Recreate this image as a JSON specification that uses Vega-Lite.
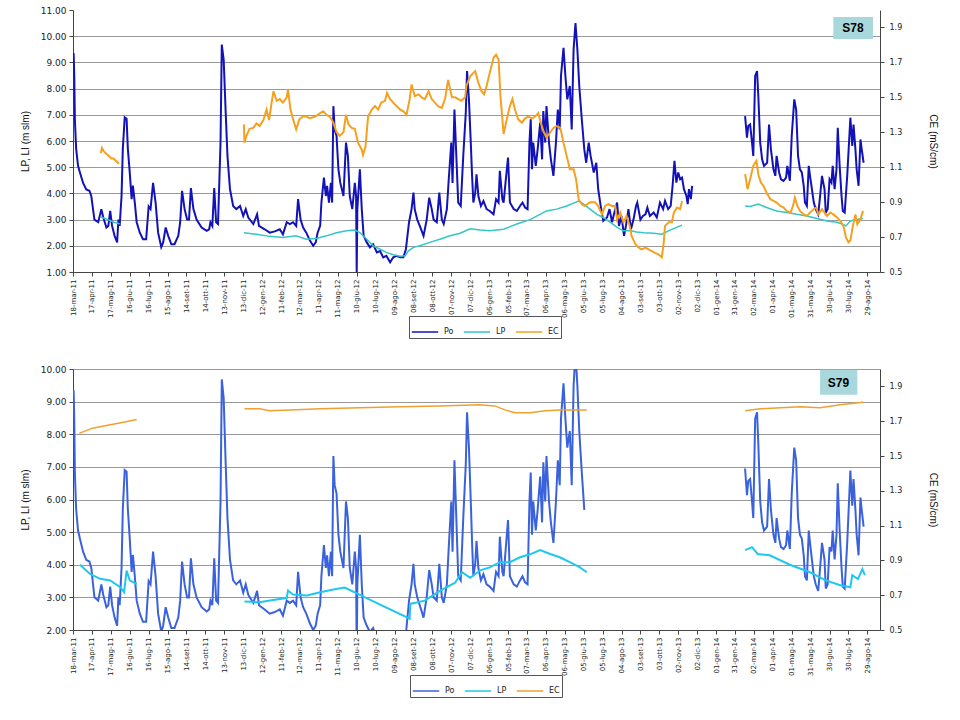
{
"$schema":"https://vega.github.io/schema/vega-lite/v6.json",
"padding":{"left":20,"top":6,"right":5,"bottom":5},
"background":"white",
"config":{"view":{"stroke":null},"axis":{"labelColor":"#222","titleColor":"#111","domainColor":"#444","tickColor":"#444"}},
"datasets":{
"po":[{"d":"2011-03-18","v":9.3},{"d":"2011-03-19","v":9.35},{"d":"2011-03-20","v":8.48},{"d":"2011-03-21","v":6.8},{"d":"2011-03-23","v":5.7},{"d":"2011-03-26","v":5.05},{"d":"2011-03-29","v":4.8},{"d":"2011-04-03","v":4.4},{"d":"2011-04-08","v":4.15},{"d":"2011-04-13","v":4.1},{"d":"2011-04-16","v":3.9},{"d":"2011-04-21","v":3.0},{"d":"2011-04-27","v":2.9},{"d":"2011-05-02","v":3.4},{"d":"2011-05-05","v":3.08},{"d":"2011-05-10","v":2.7},{"d":"2011-05-13","v":2.76},{"d":"2011-05-16","v":3.33},{"d":"2011-05-19","v":2.76},{"d":"2011-05-23","v":2.38},{"d":"2011-05-27","v":2.13},{"d":"2011-05-29","v":3.0},{"d":"2011-05-31","v":2.76},{"d":"2011-06-03","v":3.9},{"d":"2011-06-05","v":5.7},{"d":"2011-06-08","v":6.9},{"d":"2011-06-11","v":6.85},{"d":"2011-06-13","v":5.7},{"d":"2011-06-16","v":4.8},{"d":"2011-06-19","v":3.78},{"d":"2011-06-21","v":4.3},{"d":"2011-06-24","v":3.65},{"d":"2011-06-27","v":2.9},{"d":"2011-07-02","v":2.5},{"d":"2011-07-07","v":2.25},{"d":"2011-07-12","v":2.25},{"d":"2011-07-16","v":3.5},{"d":"2011-07-19","v":3.4},{"d":"2011-07-23","v":4.4},{"d":"2011-07-27","v":3.65},{"d":"2011-07-31","v":2.5},{"d":"2011-08-05","v":1.95},{"d":"2011-08-08","v":2.13},{"d":"2011-08-12","v":2.7},{"d":"2011-08-16","v":2.38},{"d":"2011-08-21","v":2.06},{"d":"2011-08-26","v":2.06},{"d":"2011-09-01","v":2.38},{"d":"2011-09-04","v":2.9},{"d":"2011-09-07","v":4.1},{"d":"2011-09-11","v":3.4},{"d":"2011-09-15","v":3.0},{"d":"2011-09-18","v":3.0},{"d":"2011-09-21","v":4.2},{"d":"2011-09-25","v":3.4},{"d":"2011-09-30","v":3.0},{"d":"2011-10-08","v":2.7},{"d":"2011-10-16","v":2.57},{"d":"2011-10-20","v":2.63},{"d":"2011-10-22","v":2.9},{"d":"2011-10-25","v":2.76},{"d":"2011-10-28","v":4.2},{"d":"2011-10-31","v":2.9},{"d":"2011-11-03","v":2.83},{"d":"2011-11-07","v":5.94},{"d":"2011-11-09","v":9.68},{"d":"2011-11-12","v":9.1},{"d":"2011-11-15","v":7.2},{"d":"2011-11-18","v":5.43},{"d":"2011-11-22","v":4.16},{"d":"2011-11-27","v":3.52},{"d":"2011-12-02","v":3.4},{"d":"2011-12-08","v":3.52},{"d":"2011-12-13","v":3.14},{"d":"2011-12-17","v":3.4},{"d":"2011-12-21","v":3.08},{"d":"2011-12-29","v":2.83},{"d":"2012-01-04","v":3.2},{"d":"2012-01-07","v":2.76},{"d":"2012-01-16","v":2.63},{"d":"2012-01-24","v":2.5},{"d":"2012-02-01","v":2.55},{"d":"2012-02-09","v":2.63},{"d":"2012-02-14","v":2.44},{"d":"2012-02-20","v":2.9},{"d":"2012-02-25","v":2.83},{"d":"2012-03-01","v":2.9},{"d":"2012-03-06","v":2.76},{"d":"2012-03-09","v":3.78},{"d":"2012-03-13","v":3.0},{"d":"2012-03-17","v":2.7},{"d":"2012-03-22","v":2.5},{"d":"2012-03-28","v":2.19},{"d":"2012-04-02","v":2.0},{"d":"2012-04-06","v":2.13},{"d":"2012-04-09","v":2.5},{"d":"2012-04-13","v":2.76},{"d":"2012-04-15","v":3.65},{"d":"2012-04-19","v":4.6},{"d":"2012-04-22","v":3.9},{"d":"2012-04-24","v":4.29},{"d":"2012-04-27","v":3.65},{"d":"2012-04-30","v":4.4},{"d":"2012-05-02","v":3.65},{"d":"2012-05-04","v":7.33},{"d":"2012-05-06","v":6.44},{"d":"2012-05-09","v":6.19},{"d":"2012-05-12","v":4.92},{"d":"2012-05-15","v":4.4},{"d":"2012-05-20","v":3.9},{"d":"2012-05-24","v":5.94},{"d":"2012-05-27","v":5.43},{"d":"2012-05-30","v":3.9},{"d":"2012-06-03","v":3.4},{"d":"2012-06-07","v":4.4},{"d":"2012-06-09","v":3.9},{"d":"2012-06-10","v":1.0},{"d":"2012-06-11","v":3.4},{"d":"2012-06-15","v":4.92},{"d":"2012-06-18","v":3.4},{"d":"2012-06-21","v":2.38},{"d":"2012-06-26","v":2.13},{"d":"2012-07-01","v":1.94},{"d":"2012-07-06","v":2.06},{"d":"2012-07-12","v":1.75},{"d":"2012-07-17","v":1.8},{"d":"2012-07-22","v":1.56},{"d":"2012-07-27","v":1.62},{"d":"2012-08-02","v":1.37},{"d":"2012-08-07","v":1.56},{"d":"2012-08-12","v":1.62},{"d":"2012-08-18","v":1.56},{"d":"2012-08-23","v":1.56},{"d":"2012-08-27","v":1.87},{"d":"2012-09-01","v":2.9},{"d":"2012-09-05","v":3.4},{"d":"2012-09-08","v":4.03},{"d":"2012-09-10","v":3.4},{"d":"2012-09-14","v":3.0},{"d":"2012-09-18","v":2.76},{"d":"2012-09-24","v":2.38},{"d":"2012-09-29","v":3.0},{"d":"2012-10-03","v":3.84},{"d":"2012-10-07","v":3.4},{"d":"2012-10-10","v":3.0},{"d":"2012-10-15","v":2.9},{"d":"2012-10-19","v":4.03},{"d":"2012-10-23","v":3.0},{"d":"2012-10-26","v":2.83},{"d":"2012-10-31","v":3.4},{"d":"2012-11-03","v":4.54},{"d":"2012-11-07","v":5.94},{"d":"2012-11-09","v":4.4},{"d":"2012-11-12","v":7.2},{"d":"2012-11-15","v":5.43},{"d":"2012-11-18","v":3.65},{"d":"2012-11-22","v":3.52},{"d":"2012-11-26","v":5.43},{"d":"2012-11-30","v":7.08},{"d":"2012-12-02","v":8.67},{"d":"2012-12-05","v":7.59},{"d":"2012-12-08","v":5.9},{"d":"2012-12-10","v":4.67},{"d":"2012-12-12","v":3.65},{"d":"2012-12-15","v":4.03},{"d":"2012-12-17","v":4.73},{"d":"2012-12-20","v":3.9},{"d":"2012-12-24","v":3.52},{"d":"2012-12-28","v":3.71},{"d":"2013-01-02","v":3.4},{"d":"2013-01-07","v":3.33},{"d":"2013-01-13","v":3.2},{"d":"2013-01-17","v":3.78},{"d":"2013-01-21","v":3.65},{"d":"2013-01-23","v":4.86},{"d":"2013-01-27","v":3.78},{"d":"2013-01-29","v":3.65},{"d":"2013-02-01","v":4.4},{"d":"2013-02-05","v":5.37},{"d":"2013-02-08","v":3.65},{"d":"2013-02-14","v":3.4},{"d":"2013-02-19","v":3.33},{"d":"2013-02-24","v":3.52},{"d":"2013-02-28","v":3.65},{"d":"2013-03-04","v":3.46},{"d":"2013-03-08","v":3.4},{"d":"2013-03-11","v":5.94},{"d":"2013-03-13","v":6.83},{"d":"2013-03-15","v":4.92},{"d":"2013-03-17","v":5.94},{"d":"2013-03-21","v":5.05},{"d":"2013-03-24","v":5.68},{"d":"2013-03-28","v":6.7},{"d":"2013-03-31","v":5.3},{"d":"2013-04-02","v":7.14},{"d":"2013-04-05","v":5.94},{"d":"2013-04-07","v":7.33},{"d":"2013-04-11","v":5.94},{"d":"2013-04-14","v":5.3},{"d":"2013-04-18","v":4.67},{"d":"2013-04-22","v":5.94},{"d":"2013-04-25","v":7.2},{"d":"2013-04-28","v":6.44},{"d":"2013-04-30","v":8.48},{"d":"2013-05-04","v":9.56},{"d":"2013-05-07","v":8.48},{"d":"2013-05-10","v":7.59},{"d":"2013-05-14","v":8.1},{"d":"2013-05-17","v":6.44},{"d":"2013-05-20","v":9.49},{"d":"2013-05-23","v":10.5},{"d":"2013-05-26","v":9.49},{"d":"2013-05-29","v":8.1},{"d":"2013-06-02","v":6.83},{"d":"2013-06-06","v":5.68},{"d":"2013-06-09","v":5.17},{"d":"2013-06-13","v":5.94},{"d":"2013-06-16","v":5.43},{"d":"2013-06-21","v":4.8},{"d":"2013-06-25","v":5.17},{"d":"2013-06-28","v":4.16},{"d":"2013-07-02","v":3.52},{"d":"2013-07-06","v":2.95},{"d":"2013-07-12","v":3.08},{"d":"2013-07-16","v":3.4},{"d":"2013-07-20","v":2.9},{"d":"2013-07-23","v":3.2},{"d":"2013-07-28","v":3.65},{"d":"2013-07-31","v":2.76},{"d":"2013-08-04","v":3.14},{"d":"2013-08-08","v":2.38},{"d":"2013-08-11","v":2.76},{"d":"2013-08-15","v":3.4},{"d":"2013-08-19","v":2.63},{"d":"2013-08-23","v":3.0},{"d":"2013-08-27","v":3.52},{"d":"2013-08-29","v":3.65},{"d":"2013-09-03","v":3.0},{"d":"2013-09-07","v":3.14},{"d":"2013-09-11","v":3.2},{"d":"2013-09-14","v":3.46},{"d":"2013-09-18","v":3.14},{"d":"2013-09-24","v":3.27},{"d":"2013-09-29","v":3.08},{"d":"2013-10-04","v":3.65},{"d":"2013-10-09","v":3.4},{"d":"2013-10-12","v":3.71},{"d":"2013-10-17","v":3.4},{"d":"2013-10-21","v":3.52},{"d":"2013-10-24","v":4.29},{"d":"2013-10-27","v":5.24},{"d":"2013-10-30","v":4.41},{"d":"2013-11-02","v":4.8},{"d":"2013-11-05","v":4.54},{"d":"2013-11-08","v":4.6},{"d":"2013-11-11","v":4.16},{"d":"2013-11-15","v":3.9},{"d":"2013-11-17","v":3.59},{"d":"2013-11-19","v":4.16},{"d":"2013-11-22","v":3.78},{"d":"2013-11-24","v":4.29},{"d":"2013-12-20","v":null},{"d":"2014-02-16","v":6.95},{"d":"2014-02-19","v":6.13},{"d":"2014-02-21","v":6.57},{"d":"2014-02-24","v":6.63},{"d":"2014-02-27","v":5.94},{"d":"2014-03-01","v":5.43},{"d":"2014-03-04","v":8.48},{"d":"2014-03-07","v":8.67},{"d":"2014-03-09","v":7.71},{"d":"2014-03-12","v":5.94},{"d":"2014-03-15","v":5.3},{"d":"2014-03-18","v":5.05},{"d":"2014-03-23","v":5.17},{"d":"2014-03-26","v":6.63},{"d":"2014-03-29","v":5.68},{"d":"2014-04-02","v":4.92},{"d":"2014-04-05","v":4.67},{"d":"2014-04-07","v":5.43},{"d":"2014-04-11","v":4.8},{"d":"2014-04-14","v":4.54},{"d":"2014-04-18","v":4.48},{"d":"2014-04-22","v":4.6},{"d":"2014-04-24","v":5.05},{"d":"2014-04-28","v":4.48},{"d":"2014-05-01","v":6.19},{"d":"2014-05-05","v":7.59},{"d":"2014-05-08","v":7.2},{"d":"2014-05-11","v":5.43},{"d":"2014-05-14","v":4.92},{"d":"2014-05-17","v":4.8},{"d":"2014-05-20","v":4.29},{"d":"2014-05-22","v":3.65},{"d":"2014-05-25","v":3.52},{"d":"2014-05-28","v":5.05},{"d":"2014-05-30","v":4.67},{"d":"2014-06-02","v":4.16},{"d":"2014-06-05","v":3.65},{"d":"2014-06-08","v":3.4},{"d":"2014-06-12","v":3.2},{"d":"2014-06-15","v":3.9},{"d":"2014-06-18","v":4.67},{"d":"2014-06-22","v":4.16},{"d":"2014-06-24","v":3.27},{"d":"2014-06-27","v":3.4},{"d":"2014-06-30","v":4.54},{"d":"2014-07-03","v":4.41},{"d":"2014-07-05","v":5.05},{"d":"2014-07-08","v":4.16},{"d":"2014-07-11","v":4.92},{"d":"2014-07-13","v":6.5},{"d":"2014-07-16","v":5.05},{"d":"2014-07-19","v":3.9},{"d":"2014-07-21","v":3.33},{"d":"2014-07-24","v":3.27},{"d":"2014-07-28","v":4.67},{"d":"2014-07-30","v":5.56},{"d":"2014-08-02","v":6.89},{"d":"2014-08-05","v":5.81},{"d":"2014-08-07","v":6.63},{"d":"2014-08-10","v":5.68},{"d":"2014-08-12","v":4.92},{"d":"2014-08-15","v":4.29},{"d":"2014-08-18","v":6.06},{"d":"2014-08-20","v":5.68},{"d":"2014-08-23","v":5.17}],
"lpTop":[{"d":"2011-05-01","v":3.1},{"d":"2011-05-07","v":3.05},{"d":"2011-05-12","v":3.0},{"d":"2011-05-17","v":2.95},{"d":"2011-05-22","v":2.9},{"d":"2011-05-27","v":2.87},{"d":"2011-05-31","v":2.83},{"d":"2011-08-01","v":null},{"d":"2011-12-14","v":2.5},{"d":"2012-01-03","v":2.44},{"d":"2012-01-24","v":2.36},{"d":"2012-02-14","v":2.32},{"d":"2012-03-06","v":2.38},{"d":"2012-03-22","v":2.25},{"d":"2012-04-07","v":2.28},{"d":"2012-04-23","v":2.38},{"d":"2012-05-09","v":2.5},{"d":"2012-05-25","v":2.57},{"d":"2012-06-07","v":2.6},{"d":"2012-06-15","v":2.5},{"d":"2012-06-26","v":2.25},{"d":"2012-07-06","v":2.0},{"d":"2012-07-17","v":1.87},{"d":"2012-07-27","v":1.75},{"d":"2012-08-07","v":1.66},{"d":"2012-08-18","v":1.6},{"d":"2012-08-26","v":1.62},{"d":"2012-08-31","v":1.81},{"d":"2012-09-08","v":1.94},{"d":"2012-09-18","v":2.0},{"d":"2012-10-04","v":2.13},{"d":"2012-10-20","v":2.25},{"d":"2012-11-05","v":2.38},{"d":"2012-11-21","v":2.48},{"d":"2012-12-07","v":2.65},{"d":"2012-12-23","v":2.6},{"d":"2013-01-07","v":2.57},{"d":"2013-01-29","v":2.63},{"d":"2013-02-19","v":2.83},{"d":"2013-03-12","v":3.0},{"d":"2013-04-07","v":3.33},{"d":"2013-04-23","v":3.4},{"d":"2013-05-09","v":3.52},{"d":"2013-05-22","v":3.65},{"d":"2013-05-28","v":3.71},{"d":"2013-06-05","v":3.59},{"d":"2013-06-15","v":3.4},{"d":"2013-06-26","v":3.2},{"d":"2013-07-06","v":3.08},{"d":"2013-07-17","v":2.9},{"d":"2013-07-28","v":2.7},{"d":"2013-08-07","v":2.57},{"d":"2013-08-18","v":2.57},{"d":"2013-08-28","v":2.53},{"d":"2013-09-08","v":2.5},{"d":"2013-09-24","v":2.48},{"d":"2013-10-07","v":2.44},{"d":"2013-10-20","v":2.6},{"d":"2013-11-08","v":2.79},{"d":"2013-12-20","v":null},{"d":"2014-02-16","v":3.52},{"d":"2014-02-24","v":3.5},{"d":"2014-03-09","v":3.59},{"d":"2014-03-22","v":3.46},{"d":"2014-04-07","v":3.33},{"d":"2014-04-23","v":3.27},{"d":"2014-05-09","v":3.2},{"d":"2014-05-25","v":3.14},{"d":"2014-06-10","v":3.04},{"d":"2014-06-26","v":2.95},{"d":"2014-07-12","v":2.9},{"d":"2014-07-20","v":2.83},{"d":"2014-07-26","v":2.76},{"d":"2014-08-02","v":2.95},{"d":"2014-08-12","v":3.0},{"d":"2014-08-22","v":3.04}],
"ecTop":[{"d":"2011-05-01","v":1.18},{"d":"2011-05-03","v":1.21},{"d":"2011-05-06","v":1.19},{"d":"2011-05-09","v":1.18},{"d":"2011-05-12","v":1.17},{"d":"2011-05-15","v":1.16},{"d":"2011-05-18","v":1.15},{"d":"2011-05-21","v":1.15},{"d":"2011-05-24","v":1.14},{"d":"2011-05-27","v":1.13},{"d":"2011-05-30","v":1.12},{"d":"2011-08-01","v":null},{"d":"2011-12-14","v":1.345},{"d":"2011-12-15","v":1.24},{"d":"2011-12-18","v":1.28},{"d":"2011-12-23","v":1.32},{"d":"2011-12-29","v":1.325},{"d":"2012-01-03","v":1.35},{"d":"2012-01-08","v":1.336},{"d":"2012-01-14","v":1.37},{"d":"2012-01-19","v":1.43},{"d":"2012-01-23","v":1.37},{"d":"2012-01-27","v":1.47},{"d":"2012-01-30","v":1.535},{"d":"2012-02-04","v":1.48},{"d":"2012-02-09","v":1.49},{"d":"2012-02-14","v":1.47},{"d":"2012-02-20","v":1.5},{"d":"2012-02-22","v":1.546},{"d":"2012-02-26","v":1.43},{"d":"2012-03-01","v":1.375},{"d":"2012-03-06","v":1.317},{"d":"2012-03-11","v":1.375},{"d":"2012-03-17","v":1.39},{"d":"2012-03-22","v":1.39},{"d":"2012-03-28","v":1.38},{"d":"2012-04-05","v":1.39},{"d":"2012-04-13","v":1.41},{"d":"2012-04-18","v":1.42},{"d":"2012-04-23","v":1.4},{"d":"2012-04-28","v":1.39},{"d":"2012-05-04","v":1.355},{"d":"2012-05-09","v":1.3},{"d":"2012-05-14","v":1.28},{"d":"2012-05-20","v":1.3},{"d":"2012-05-24","v":1.4},{"d":"2012-05-28","v":1.345},{"d":"2012-06-02","v":1.325},{"d":"2012-06-07","v":1.32},{"d":"2012-06-12","v":1.24},{"d":"2012-06-18","v":1.2},{"d":"2012-06-20","v":1.17},{"d":"2012-06-24","v":1.22},{"d":"2012-06-28","v":1.39},{"d":"2012-07-04","v":1.43},{"d":"2012-07-09","v":1.45},{"d":"2012-07-14","v":1.43},{"d":"2012-07-19","v":1.47},{"d":"2012-07-25","v":1.48},{"d":"2012-07-28","v":1.526},{"d":"2012-08-02","v":1.49},{"d":"2012-08-07","v":1.47},{"d":"2012-08-12","v":1.45},{"d":"2012-08-18","v":1.43},{"d":"2012-08-23","v":1.42},{"d":"2012-08-28","v":1.4},{"d":"2012-09-02","v":1.49},{"d":"2012-09-05","v":1.574},{"d":"2012-09-10","v":1.507},{"d":"2012-09-16","v":1.517},{"d":"2012-09-21","v":1.5},{"d":"2012-09-26","v":1.49},{"d":"2012-10-02","v":1.535},{"d":"2012-10-07","v":1.49},{"d":"2012-10-12","v":1.47},{"d":"2012-10-17","v":1.45},{"d":"2012-10-23","v":1.44},{"d":"2012-10-28","v":1.49},{"d":"2012-11-02","v":1.6},{"d":"2012-11-08","v":1.5},{"d":"2012-11-13","v":1.5},{"d":"2012-11-18","v":1.49},{"d":"2012-11-23","v":1.48},{"d":"2012-11-29","v":1.5},{"d":"2012-12-01","v":1.565},{"d":"2012-12-07","v":1.62},{"d":"2012-12-12","v":1.64},{"d":"2012-12-15","v":1.65},{"d":"2012-12-20","v":1.583},{"d":"2012-12-25","v":1.535},{"d":"2012-12-29","v":1.517},{"d":"2013-01-02","v":1.565},{"d":"2013-01-07","v":1.64},{"d":"2013-01-13","v":1.726},{"d":"2013-01-17","v":1.745},{"d":"2013-01-21","v":1.717},{"d":"2013-01-24","v":1.507},{"d":"2013-01-29","v":1.29},{"d":"2013-02-03","v":1.375},{"d":"2013-02-08","v":1.45},{"d":"2013-02-12","v":1.49},{"d":"2013-02-16","v":1.43},{"d":"2013-02-21","v":1.375},{"d":"2013-02-27","v":1.355},{"d":"2013-03-04","v":1.38},{"d":"2013-03-09","v":1.39},{"d":"2013-03-15","v":1.38},{"d":"2013-03-20","v":1.39},{"d":"2013-03-25","v":1.41},{"d":"2013-03-29","v":1.355},{"d":"2013-04-02","v":1.307},{"d":"2013-04-07","v":1.27},{"d":"2013-04-13","v":1.3},{"d":"2013-04-18","v":1.325},{"d":"2013-04-23","v":1.335},{"d":"2013-04-29","v":1.325},{"d":"2013-05-04","v":1.24},{"d":"2013-05-09","v":1.165},{"d":"2013-05-14","v":1.088},{"d":"2013-05-20","v":1.088},{"d":"2013-05-24","v":1.03},{"d":"2013-05-28","v":0.917},{"d":"2013-06-02","v":0.888},{"d":"2013-06-07","v":0.878},{"d":"2013-06-15","v":0.9},{"d":"2013-06-23","v":0.9},{"d":"2013-06-28","v":0.878},{"d":"2013-07-04","v":0.83},{"d":"2013-07-09","v":0.878},{"d":"2013-07-14","v":0.888},{"d":"2013-07-20","v":0.878},{"d":"2013-07-25","v":0.878},{"d":"2013-07-28","v":0.8},{"d":"2013-08-02","v":0.84},{"d":"2013-08-07","v":0.785},{"d":"2013-08-12","v":0.82},{"d":"2013-08-17","v":0.764},{"d":"2013-08-20","v":0.707},{"d":"2013-08-26","v":0.66},{"d":"2013-08-31","v":0.64},{"d":"2013-09-05","v":0.63},{"d":"2013-09-11","v":0.64},{"d":"2013-09-16","v":0.63},{"d":"2013-09-21","v":0.62},{"d":"2013-09-26","v":0.61},{"d":"2013-10-02","v":0.6},{"d":"2013-10-07","v":0.584},{"d":"2013-10-10","v":0.67},{"d":"2013-10-12","v":0.764},{"d":"2013-10-18","v":0.785},{"d":"2013-10-23","v":0.785},{"d":"2013-10-26","v":0.84},{"d":"2013-10-31","v":0.869},{"d":"2013-11-05","v":0.86},{"d":"2013-11-08","v":0.907},{"d":"2013-12-20","v":null},{"d":"2014-02-16","v":1.06},{"d":"2014-02-20","v":0.974},{"d":"2014-02-24","v":1.031},{"d":"2014-03-01","v":1.108},{"d":"2014-03-06","v":1.136},{"d":"2014-03-09","v":1.06},{"d":"2014-03-13","v":1.012},{"d":"2014-03-17","v":0.994},{"d":"2014-03-22","v":0.955},{"d":"2014-03-28","v":0.917},{"d":"2014-04-02","v":0.907},{"d":"2014-04-07","v":0.898},{"d":"2014-04-13","v":0.878},{"d":"2014-04-18","v":0.869},{"d":"2014-04-23","v":0.85},{"d":"2014-04-29","v":0.84},{"d":"2014-05-03","v":0.878},{"d":"2014-05-06","v":0.926},{"d":"2014-05-10","v":0.878},{"d":"2014-05-14","v":0.85},{"d":"2014-05-20","v":0.83},{"d":"2014-05-25","v":0.821},{"d":"2014-05-30","v":0.84},{"d":"2014-06-05","v":0.86},{"d":"2014-06-09","v":0.869},{"d":"2014-06-12","v":0.83},{"d":"2014-06-18","v":0.86},{"d":"2014-06-22","v":0.84},{"d":"2014-06-26","v":0.821},{"d":"2014-07-01","v":0.84},{"d":"2014-07-06","v":0.83},{"d":"2014-07-12","v":0.812},{"d":"2014-07-17","v":0.793},{"d":"2014-07-22","v":0.764},{"d":"2014-07-26","v":0.698},{"d":"2014-07-30","v":0.67},{"d":"2014-08-02","v":0.68},{"d":"2014-08-06","v":0.764},{"d":"2014-08-10","v":0.83},{"d":"2014-08-13","v":0.774},{"d":"2014-08-18","v":0.8},{"d":"2014-08-22","v":0.85}],
"lpBot":[{"d":"2011-03-29","v":4.0},{"d":"2011-04-14","v":3.72},{"d":"2011-04-30","v":3.57},{"d":"2011-05-16","v":3.52},{"d":"2011-06-01","v":3.31},{"d":"2011-06-07","v":3.16},{"d":"2011-06-11","v":3.82},{"d":"2011-06-16","v":3.52},{"d":"2011-06-27","v":3.41},{"d":"2011-09-01","v":null},{"d":"2011-12-15","v":2.87},{"d":"2012-01-08","v":2.85},{"d":"2012-01-29","v":2.92},{"d":"2012-02-20","v":2.98},{"d":"2012-02-22","v":3.21},{"d":"2012-03-01","v":3.09},{"d":"2012-03-23","v":3.06},{"d":"2012-04-13","v":3.16},{"d":"2012-05-06","v":3.25},{"d":"2012-05-22","v":3.3},{"d":"2012-07-08","v":2.86},{"d":"2012-09-02","v":2.35},{"d":"2012-09-03","v":2.8},{"d":"2012-09-26","v":2.9},{"d":"2012-10-20","v":3.2},{"d":"2012-11-13","v":3.45},{"d":"2012-11-24","v":3.77},{"d":"2012-12-07","v":3.6},{"d":"2012-12-23","v":3.83},{"d":"2013-01-07","v":3.92},{"d":"2013-01-23","v":4.08},{"d":"2013-02-08","v":4.08},{"d":"2013-02-24","v":4.23},{"d":"2013-03-12","v":4.32},{"d":"2013-03-28","v":4.45},{"d":"2013-04-13","v":4.33},{"d":"2013-04-28","v":4.23},{"d":"2013-05-14","v":4.08},{"d":"2013-05-30","v":3.92},{"d":"2013-06-10","v":3.77},{"d":"2013-12-20","v":null},{"d":"2014-02-16","v":4.45},{"d":"2014-02-27","v":4.54},{"d":"2014-03-08","v":4.33},{"d":"2014-03-27","v":4.29},{"d":"2014-04-28","v":4.0},{"d":"2014-05-30","v":3.77},{"d":"2014-06-23","v":3.53},{"d":"2014-07-17","v":3.37},{"d":"2014-08-02","v":3.31},{"d":"2014-08-05","v":3.68},{"d":"2014-08-14","v":3.56},{"d":"2014-08-21","v":3.87},{"d":"2014-08-25","v":3.68}],
"ecBot":[{"d":"2011-03-28","v":1.63},{"d":"2011-04-18","v":1.66},{"d":"2011-05-10","v":1.675},{"d":"2011-05-31","v":1.69},{"d":"2011-06-27","v":1.71},{"d":"2011-09-01","v":null},{"d":"2011-12-15","v":1.771},{"d":"2012-01-08","v":1.771},{"d":"2012-01-24","v":1.76},{"d":"2012-02-25","v":1.765},{"d":"2012-04-13","v":1.771},{"d":"2012-06-15","v":1.777},{"d":"2012-08-18","v":1.783},{"d":"2012-10-20","v":1.788},{"d":"2012-12-22","v":1.794},{"d":"2013-01-15","v":1.788},{"d":"2013-01-31","v":1.765},{"d":"2013-02-16","v":1.749},{"d":"2013-03-12","v":1.749},{"d":"2013-04-05","v":1.76},{"d":"2013-04-29","v":1.765},{"d":"2013-06-10","v":1.765},{"d":"2013-12-20","v":null},{"d":"2014-02-16","v":1.76},{"d":"2014-03-12","v":1.771},{"d":"2014-04-13","v":1.777},{"d":"2014-05-15","v":1.783},{"d":"2014-06-15","v":1.777},{"d":"2014-07-17","v":1.794},{"d":"2014-08-18","v":1.807},{"d":"2014-08-22","v":1.81}],
"boxTop":[{"d":"2014-07-06","d2":"2014-09-07","v":10.73,"v2":9.89}],
"labelTop":[{"d":"2014-08-06","v":10.31,"station":"S78"}],
"boxBot":[{"d":"2014-06-15","d2":"2014-08-13","v":9.98,"v2":9.21}],
"labelBot":[{"d":"2014-07-14","v":9.58,"station":"S79"}]
},
"vconcat":[
{
"width":807,"height":262,
"encoding":{"x":{"field":"d","type":"temporal","scale":{"type":"utc","nice":false,"domain":[{"year":2011,"month":3,"date":18,"utc":true},{"year":2014,"month":9,"date":18,"utc":true}]},"axis":{"values":[{"year":2011,"month":3,"date":18,"utc":true},{"year":2011,"month":4,"date":17,"utc":true},{"year":2011,"month":5,"date":17,"utc":true},{"year":2011,"month":6,"date":16,"utc":true},{"year":2011,"month":7,"date":16,"utc":true},{"year":2011,"month":8,"date":15,"utc":true},{"year":2011,"month":9,"date":14,"utc":true},{"year":2011,"month":10,"date":14,"utc":true},{"year":2011,"month":11,"date":13,"utc":true},{"year":2011,"month":12,"date":13,"utc":true},{"year":2012,"month":1,"date":12,"utc":true},{"year":2012,"month":2,"date":11,"utc":true},{"year":2012,"month":3,"date":12,"utc":true},{"year":2012,"month":4,"date":11,"utc":true},{"year":2012,"month":5,"date":11,"utc":true},{"year":2012,"month":6,"date":10,"utc":true},{"year":2012,"month":7,"date":10,"utc":true},{"year":2012,"month":8,"date":9,"utc":true},{"year":2012,"month":9,"date":8,"utc":true},{"year":2012,"month":10,"date":8,"utc":true},{"year":2012,"month":11,"date":7,"utc":true},{"year":2012,"month":12,"date":7,"utc":true},{"year":2013,"month":1,"date":6,"utc":true},{"year":2013,"month":2,"date":5,"utc":true},{"year":2013,"month":3,"date":7,"utc":true},{"year":2013,"month":4,"date":6,"utc":true},{"year":2013,"month":5,"date":6,"utc":true},{"year":2013,"month":6,"date":5,"utc":true},{"year":2013,"month":7,"date":5,"utc":true},{"year":2013,"month":8,"date":4,"utc":true},{"year":2013,"month":9,"date":3,"utc":true},{"year":2013,"month":10,"date":3,"utc":true},{"year":2013,"month":11,"date":2,"utc":true},{"year":2013,"month":12,"date":2,"utc":true},{"year":2014,"month":1,"date":1,"utc":true},{"year":2014,"month":1,"date":31,"utc":true},{"year":2014,"month":3,"date":2,"utc":true},{"year":2014,"month":4,"date":1,"utc":true},{"year":2014,"month":5,"date":1,"utc":true},{"year":2014,"month":5,"date":31,"utc":true},{"year":2014,"month":6,"date":30,"utc":true},{"year":2014,"month":7,"date":30,"utc":true},{"year":2014,"month":8,"date":29,"utc":true}],"labelExpr":"utcFormat(datum.value,'%d')+'-'+['gen','feb','mar','apr','mag','giu','lug','ago','set','ott','nov','dic'][utcmonth(datum.value)]+'-'+utcFormat(datum.value,'%y')","labelAngle":-90,"labelOverlap":false,"labelFont":"DejaVu Sans","labelFontSize":7,"labelPadding":3,"tickSize":4,"grid":false,"title":null}}},
"layer":[
{"encoding":{"y":{"field":"v","type":"quantitative","scale":{"domain":[1,11],"nice":false,"zero":false},"axis":{"values":[1,2,3,4,5,6,7,8,9,10,11],"format":".2f","title":"LP, LI (m slm)","grid":true,"gridColor":"#999999","gridOpacity":{"condition":{"test":"datum.value >= 11","value":0},"value":1},"tickSize":4,"labelPadding":3,"titlePadding":10,"labelFont":"DejaVu Sans","labelFontSize":9,"titleFont":"Liberation Sans","titleFontSize":10,"titleFontWeight":"normal"}}},
"layer":[
{"data":{"name":"po"},"mark":{"type":"line","strokeWidth":2,"clip":true},"encoding":{"color":{"datum":"Po","scale":{"domain":["Po","LP","EC"],"range":["#1212b8","#33c6c6","#f6a020"]},"legend":{"orient":"none","legendX":336,"legendY":306,"direction":"horizontal","title":null,"symbolType":"stroke","symbolSize":700,"symbolStrokeWidth":1.5,"labelFont":"DejaVu Sans","labelFontSize":8,"labelColor":"#222","strokeColor":"#555","fillColor":"#ffffff","padding":2,"columnPadding":6,"labelOffset":5}}}},
{"data":{"name":"lpTop"},"mark":{"type":"line","strokeWidth":1.5,"clip":true},"encoding":{"color":{"datum":"LP"}}},
{"data":{"name":"boxTop"},"mark":{"type":"rect","fill":"#a8d8dc"},"encoding":{"x2":{"field":"d2"},"y2":{"field":"v2"}}},
{"data":{"name":"labelTop"},"mark":{"type":"text","font":"Liberation Sans","fontSize":12,"fontWeight":"bold","color":"#000000","align":"center","baseline":"middle"},"encoding":{"text":{"field":"station"}}}
]},
{"data":{"name":"ecTop"},"mark":{"type":"line","strokeWidth":2,"clip":true},"encoding":{"y":{"field":"v","type":"quantitative","scale":{"domain":[0.5,2.0],"nice":false,"zero":false},"axis":{"orient":"right","values":[0.5,0.7,0.9,1.1,1.3,1.5,1.7,1.9],"format":".1f","title":"CE (mS/cm)","grid":false,"tickSize":4,"labelPadding":5,"titlePadding":26,"labelFont":"DejaVu Sans","labelFontSize":8,"titleFont":"Liberation Sans","titleFontSize":10,"titleFontWeight":"normal"}},"color":{"datum":"EC"}}}
],
"resolve":{"scale":{"y":"independent"}}
},
{
"width":807,"height":261,
"encoding":{"x":{"field":"d","type":"temporal","scale":{"type":"utc","nice":false,"domain":[{"year":2011,"month":3,"date":18,"utc":true},{"year":2014,"month":9,"date":18,"utc":true}]},"axis":{"values":[{"year":2011,"month":3,"date":18,"utc":true},{"year":2011,"month":4,"date":17,"utc":true},{"year":2011,"month":5,"date":17,"utc":true},{"year":2011,"month":6,"date":16,"utc":true},{"year":2011,"month":7,"date":16,"utc":true},{"year":2011,"month":8,"date":15,"utc":true},{"year":2011,"month":9,"date":14,"utc":true},{"year":2011,"month":10,"date":14,"utc":true},{"year":2011,"month":11,"date":13,"utc":true},{"year":2011,"month":12,"date":13,"utc":true},{"year":2012,"month":1,"date":12,"utc":true},{"year":2012,"month":2,"date":11,"utc":true},{"year":2012,"month":3,"date":12,"utc":true},{"year":2012,"month":4,"date":11,"utc":true},{"year":2012,"month":5,"date":11,"utc":true},{"year":2012,"month":6,"date":10,"utc":true},{"year":2012,"month":7,"date":10,"utc":true},{"year":2012,"month":8,"date":9,"utc":true},{"year":2012,"month":9,"date":8,"utc":true},{"year":2012,"month":10,"date":8,"utc":true},{"year":2012,"month":11,"date":7,"utc":true},{"year":2012,"month":12,"date":7,"utc":true},{"year":2013,"month":1,"date":6,"utc":true},{"year":2013,"month":2,"date":5,"utc":true},{"year":2013,"month":3,"date":7,"utc":true},{"year":2013,"month":4,"date":6,"utc":true},{"year":2013,"month":5,"date":6,"utc":true},{"year":2013,"month":6,"date":5,"utc":true},{"year":2013,"month":7,"date":5,"utc":true},{"year":2013,"month":8,"date":4,"utc":true},{"year":2013,"month":9,"date":3,"utc":true},{"year":2013,"month":10,"date":3,"utc":true},{"year":2013,"month":11,"date":2,"utc":true},{"year":2013,"month":12,"date":2,"utc":true},{"year":2014,"month":1,"date":1,"utc":true},{"year":2014,"month":1,"date":31,"utc":true},{"year":2014,"month":3,"date":2,"utc":true},{"year":2014,"month":4,"date":1,"utc":true},{"year":2014,"month":5,"date":1,"utc":true},{"year":2014,"month":5,"date":31,"utc":true},{"year":2014,"month":6,"date":30,"utc":true},{"year":2014,"month":7,"date":30,"utc":true},{"year":2014,"month":8,"date":29,"utc":true}],"labelExpr":"utcFormat(datum.value,'%d')+'-'+['gen','feb','mar','apr','mag','giu','lug','ago','set','ott','nov','dic'][utcmonth(datum.value)]+'-'+utcFormat(datum.value,'%y')","labelAngle":-90,"labelOverlap":false,"labelFont":"DejaVu Sans","labelFontSize":7,"labelPadding":3,"tickSize":4,"grid":false,"title":null}}},
"layer":[
{"encoding":{"y":{"field":"v","type":"quantitative","scale":{"domain":[2,10],"nice":false,"zero":false},"axis":{"values":[2,3,4,5,6,7,8,9,10],"format":".2f","title":"LP, LI (m slm)","grid":true,"gridColor":"#999999","tickSize":4,"labelPadding":3,"titlePadding":10,"labelFont":"DejaVu Sans","labelFontSize":9,"titleFont":"Liberation Sans","titleFontSize":10,"titleFontWeight":"normal"}}},
"layer":[
{"data":{"name":"po"},"transform":[{"filter":"datum.d < utc(2013,5,8) || datum.d > utc(2013,11,1)"}],"mark":{"type":"line","strokeWidth":2,"clip":true},"encoding":{"color":{"datum":"Po","scale":{"domain":["Po","LP","EC"],"range":["#3a62dc","#1ec8ee","#f0a030"]},"legend":{"orient":"none","legendX":337,"legendY":306,"direction":"horizontal","title":null,"symbolType":"stroke","symbolSize":700,"symbolStrokeWidth":1.5,"labelFont":"DejaVu Sans","labelFontSize":8,"labelColor":"#222","strokeColor":"#555","fillColor":"#ffffff","padding":2,"columnPadding":6,"labelOffset":5}}}},
{"data":{"name":"lpBot"},"mark":{"type":"line","strokeWidth":2,"clip":true},"encoding":{"color":{"datum":"LP"}}},
{"data":{"name":"boxBot"},"mark":{"type":"rect","fill":"#a8d8dc"},"encoding":{"x2":{"field":"d2"},"y2":{"field":"v2"}}},
{"data":{"name":"labelBot"},"mark":{"type":"text","font":"Liberation Sans","fontSize":12,"fontWeight":"bold","color":"#000000","align":"center","baseline":"middle"},"encoding":{"text":{"field":"station"}}}
]},
{"data":{"name":"ecBot"},"mark":{"type":"line","strokeWidth":1.5,"clip":true},"encoding":{"y":{"field":"v","type":"quantitative","scale":{"domain":[0.5,2.0],"nice":false,"zero":false},"axis":{"orient":"right","values":[0.5,0.7,0.9,1.1,1.3,1.5,1.7,1.9],"format":".1f","title":"CE (mS/cm)","grid":false,"tickSize":4,"labelPadding":5,"titlePadding":26,"labelFont":"DejaVu Sans","labelFontSize":8,"titleFont":"Liberation Sans","titleFontSize":10,"titleFontWeight":"normal"}},"color":{"datum":"EC"}}}
],
"resolve":{"scale":{"y":"independent"}}
}
],
"spacing":26,
"resolve":{"scale":{"color":"independent","x":"independent","y":"independent"},"legend":{"color":"independent"}}
}
